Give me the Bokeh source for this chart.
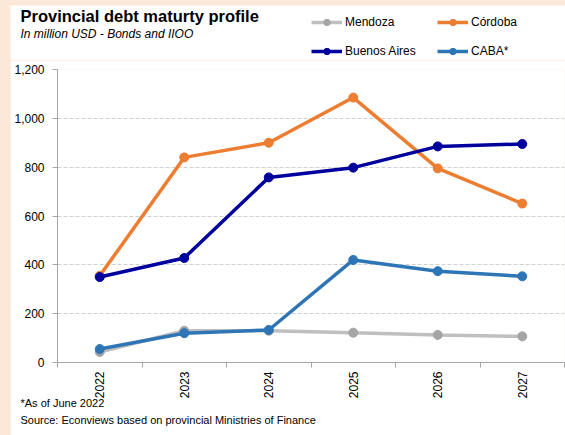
from bokeh.plotting import figure
from bokeh.layouts import column
from bokeh.models import (Range1d, FixedTicker, NumeralTickFormatter, Label, Legend, LegendItem, Title)
from bokeh.embed import file_html
from bokeh.resources import INLINE
import math

years = ["2022", "2023", "2024", "2025", "2026", "2027"]
mendoza = [43, 130, 130, 122, 113, 107]
cordoba = [355, 840, 900, 1085, 795, 651]
buenos_aires = [350, 428, 758, 798, 885, 895]
caba = [55, 120, 133, 420, 374, 353]
y_ticks = [0, 200, 400, 600, 800, 1000, 1200]

x = list(range(len(years)))

FONT = "Liberation Sans"
PEACH = "#FCE8D9"
PAD_L, PAD_T = 10, 5
W = 565 - PAD_L
HEAD_H = 55
CHART_H = 435 - PAD_T - HEAD_H

series = [
    ("Mendoza", mendoza, "#BFBFBF", "#A5A5A5"),
    ("Córdoba", cordoba, "#ED7D31", "#ED7D31"),
    ("Buenos Aires", buenos_aires, "#00009C", "#00009C"),
    ("CABA*", caba, "#2E75B6", "#2E75B6"),
]

# ---------------- chart ----------------
frame_top = 69 - PAD_T - HEAD_H      # within chart figure
frame_bot = 362 - PAD_T - HEAD_H
frame_left = 57 - PAD_L

p = figure(width=W, height=CHART_H, output_backend="svg", toolbar_location=None,
           x_range=Range1d(-0.5, len(years) - 0.5), y_range=Range1d(0, 1200),
           min_border_left=frame_left, min_border_right=1, min_border_top=frame_top,
           min_border_bottom=CHART_H - frame_bot)
p.frame_align = False
p.outline_line_color = None
p.background_fill_color = "white"
p.border_fill_color = "white"

p.xgrid.grid_line_color = None
p.ygrid.grid_line_color = "#D0D0D0"
p.ygrid.grid_line_dash = "4 2"
p.ygrid.ticker = FixedTicker(ticks=y_ticks)

p.yaxis.ticker = FixedTicker(ticks=y_ticks)
p.yaxis.formatter = NumeralTickFormatter(format="0,0")
p.yaxis.axis_line_color = "#A6A6A6"
p.yaxis.major_tick_line_color = "#A6A6A6"
p.yaxis.major_tick_out = 5
p.yaxis.major_tick_in = 0
p.yaxis.minor_tick_line_color = None
p.yaxis.major_label_text_font = FONT
p.yaxis.major_label_text_font_size = "12px"
p.yaxis.major_label_text_color = "#000000"
p.yaxis.major_label_standoff = 8

p.xaxis.ticker = FixedTicker(ticks=x, minor_ticks=[i - 0.5 for i in range(len(years) + 1)])
p.xaxis.major_label_overrides = {i: y for i, y in enumerate(years)}
p.xaxis.major_label_orientation = math.pi / 2
p.xaxis.axis_line_color = "#A6A6A6"
p.xaxis.major_tick_line_color = None
p.xaxis.minor_tick_line_color = "#A6A6A6"
p.xaxis.minor_tick_out = 5
p.xaxis.minor_tick_in = 0
p.xaxis.major_label_text_font = FONT
p.xaxis.major_label_text_font_size = "12px"
p.xaxis.major_label_text_color = "#000000"
p.xaxis.major_label_standoff = 3

for name, vals, lc, mc in series:
    p.line(x, vals, line_color=lc, line_width=3.5)
    p.scatter(x, vals, size=9, fill_color=mc, line_color=mc)

for txt, so in [("*As of June 2022", -13), ("Source: Econviews based on provincial Ministries of Finance", 19)]:
    p.add_layout(Title(text=txt, align="left", offset=-(frame_left - 10), standoff=so,
                       text_font=FONT, text_font_size="11px", text_font_style="normal",
                       text_color="#000000"), "below")

# ---------------- header ----------------
# header ranges lie below every value, so the series only feed the legend swatches
h = figure(width=W, height=HEAD_H, output_backend="svg", toolbar_location=None,
           x_range=Range1d(0, 1), y_range=Range1d(-2, -1),
           x_axis_type=None, y_axis_type=None, min_border=0)
h.frame_align = False
h.outline_line_color = None
h.grid.visible = False
h.background_fill_color = "white"
h.border_fill_color = "white"

legend_r = {}
for name, vals, lc, mc in series:
    lr = h.line(x, vals, line_color=lc, line_width=3.5)
    sr = h.scatter(x, vals, size=8, fill_color=mc, line_color=mc)
    legend_r[name] = [lr, sr]

def mk_legend(names, page_x):
    lg = Legend(items=[LegendItem(label=n, renderers=legend_r[n]) for n in names],
                location=(page_x - PAD_L, 1), orientation="vertical",
                label_text_font=FONT, label_text_font_size="12px",
                label_text_color="#000000",
                glyph_width=31, glyph_height=16, label_height=16, label_standoff=3,
                spacing=13, padding=0, margin=0,
                border_line_color=None, background_fill_alpha=0)
    h.add_layout(lg, "center")

mk_legend(["Mendoza", "Buenos Aires"], 311)
mk_legend(["Córdoba", "CABA*"], 437)

def lbl(text, page_x, page_ytop, size, style="normal"):
    h.add_layout(Label(x=page_x - PAD_L, y=HEAD_H - (page_ytop - PAD_T), x_units="screen", y_units="screen",
                       text=text, text_font=FONT, text_font_size=size, text_font_style=style,
                       text_color="#000000", text_baseline="top", text_align="left"))

lbl("Provincial debt maturty profile", 20, 6, "16.5px", "bold")
lbl("In million USD - Bonds and IIOO", 20, 26, "12px", "italic")

layout = column(h, p, spacing=0,
                styles={"background-color": PEACH, "padding-left": f"{PAD_L}px", "padding-top": f"{PAD_T}px"})

open("out.html", "w").write(file_html(layout, INLINE))
